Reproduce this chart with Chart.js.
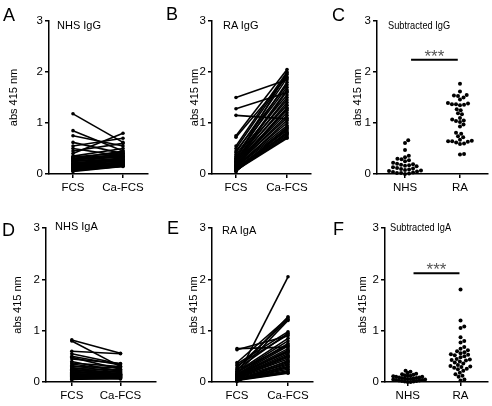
<!DOCTYPE html>
<html>
<head>
<meta charset="utf-8">
<script src="https://cdn.jsdelivr.net/npm/chart.js@4.4.1/dist/chart.umd.min.js"></script>
<style>
  body { margin: 0; background: #fff; width: 492px; height: 406px; position: relative; overflow: hidden;
         font-family: "Liberation Sans", Arial, sans-serif; color: #000; }
  canvas { position: absolute; }
  .letter { position: absolute; font-size: 18px; line-height: 1; }
  .title { position: absolute; font-size: 11px; line-height: 1; white-space: nowrap; transform-origin: left center; }
  .narrow { transform: scaleX(0.84); }
</style>
</head>
<body>
<canvas id="cA" width="160" height="200" style="left:0;top:0"></canvas>
<canvas id="cB" width="160" height="200" style="left:160px;top:0"></canvas>
<canvas id="cC" width="167" height="200" style="left:325px;top:0"></canvas>
<canvas id="cD" width="160" height="206" style="left:0;top:200px"></canvas>
<canvas id="cE" width="160" height="206" style="left:160px;top:200px"></canvas>
<canvas id="cF" width="167" height="206" style="left:325px;top:200px"></canvas>

<div class="letter" style="left:3px;top:6px">A</div>
<div class="letter" style="left:166px;top:5px">B</div>
<div class="letter" style="left:332px;top:6px">C</div>
<div class="letter" style="left:2px;top:221px">D</div>
<div class="letter" style="left:167px;top:219px">E</div>
<div class="letter" style="left:333px;top:220px">F</div>

<div class="title" style="left:57px;top:20px">NHS IgG</div>
<div class="title" style="left:223px;top:20px">RA IgG</div>
<div class="title narrow" style="left:388px;top:20px">Subtracted IgG</div>
<div class="title" style="left:55px;top:221px">NHS IgA</div>
<div class="title" style="left:222px;top:225px">RA IgA</div>
<div class="title narrow" style="left:390px;top:222px">Subtracted IgA</div>

<script>
const pairedLabels = ['FCS', 'Ca-FCS'];
const groupLabels = ['NHS', 'RA'];
const yTicks = [0, 1, 2, 3];
const yTitle = 'abs 415 nm';

// A: NHS IgG, paired FCS -> Ca-FCS
const fcsA = [1.18, 0.85, 0.75, 0.62, 0.55, 0.50, 0.45, 0.40, 0.35, 0.33, 0.31, 0.30, 0.28, 0.27, 0.25, 0.24, 0.22, 0.21, 0.20,
  0.19, 0.18, 0.17, 0.16, 0.15, 0.14, 0.13, 0.12, 0.11, 0.10, 0.09, 0.08, 0.07, 0.06, 0.05, 0.30, 0.26, 0.20, 0.12];
const caA = [0.62, 0.45, 0.55, 0.40, 0.70, 0.35, 0.60, 0.80, 0.50, 0.42, 0.38, 0.45, 0.33, 0.40, 0.30, 0.36, 0.28, 0.32, 0.25,
  0.30, 0.22, 0.27, 0.20, 0.24, 0.18, 0.22, 0.17, 0.20, 0.16, 0.19, 0.15, 0.18, 0.16, 0.15, 0.35, 0.28, 0.26, 0.22];

// B: RA IgG
const fcsB = [1.50, 1.28, 1.15, 0.75, 0.72, 0.55, 0.50, 0.45, 0.42, 0.38, 0.35, 0.32, 0.30, 0.28, 0.26, 0.25, 0.23, 0.22, 0.20,
  0.19, 0.18, 0.17, 0.16, 0.15, 0.14, 0.13, 0.12, 0.11, 0.10, 0.09, 0.08, 0.07, 0.06, 0.05, 0.05, 0.30, 0.24, 0.15];
const caB = [1.85, 1.60, 1.08, 2.05, 1.90, 2.00, 1.95, 1.75, 1.88, 1.70, 1.55, 1.80, 1.45, 1.65, 1.35, 1.50, 1.25, 1.40, 1.20,
  1.30, 1.10, 1.15, 1.00, 0.95, 0.90, 1.05, 0.85, 0.80, 0.78, 0.75, 0.72, 0.70, 0.82, 0.92, 0.88, 1.98, 1.62, 1.28];

// C: subtracted IgG
const nhsC = [0.66, 0.61, 0.47, 0.36, 0.33, 0.30, 0.29, 0.27, 0.25, 0.22, 0.20, 0.19, 0.18, 0.17, 0.16, 0.15, 0.13, 0.12,
  0.11, 0.10, 0.09, 0.08, 0.07, 0.06, 0.05, 0.04, 0.03, 0.02, 0.02, 0.01, 0.00];
const raC = [1.77, 1.62, 1.55, 1.54, 1.53, 1.50, 1.46, 1.39, 1.38, 1.37, 1.37, 1.36, 1.35, 1.27, 1.25, 1.19, 1.17, 1.10, 1.07,
  1.05, 1.04, 1.02, 0.97, 0.93, 0.81, 0.79, 0.74, 0.72, 0.67, 0.65, 0.64, 0.64, 0.63, 0.62, 0.60, 0.59, 0.39, 0.38];

// D: NHS IgA
const fcsD = [0.82, 0.80, 0.60, 0.55, 0.50, 0.48, 0.45, 0.40, 0.37, 0.35, 0.32, 0.30, 0.28, 0.26, 0.25, 0.23, 0.22, 0.20,
  0.19, 0.18, 0.17, 0.16, 0.15, 0.14, 0.13, 0.12, 0.11, 0.10, 0.09, 0.08, 0.07, 0.06, 0.05, 0.05];
const caD = [0.56, 0.30, 0.55, 0.35, 0.33, 0.25, 0.36, 0.20, 0.30, 0.22, 0.18, 0.28, 0.15, 0.24, 0.12, 0.20, 0.10, 0.17,
  0.14, 0.22, 0.09, 0.15, 0.13, 0.18, 0.08, 0.12, 0.10, 0.14, 0.07, 0.11, 0.09, 0.06, 0.08, 0.12];

// E: RA IgA
const fcsE = [0.65, 0.63, 0.38, 0.35, 0.10, 0.28, 0.25, 0.22, 0.20, 0.18, 0.16, 0.15, 0.14, 0.13, 0.12, 0.11, 0.10, 0.09,
  0.08, 0.07, 0.06, 0.05, 0.05, 0.04, 0.04, 0.03, 0.03, 0.02, 0.02, 0.01, 0.32, 0.20, 0.12, 0.08, 0.15, 0.10];
const caE = [0.68, 0.90, 1.25, 0.98, 2.05, 1.22, 0.95, 1.27, 0.85, 0.80, 1.20, 0.75, 0.70, 0.65, 0.60, 0.55, 0.50, 0.45,
  0.40, 0.35, 0.30, 0.25, 0.22, 0.20, 0.18, 0.17, 0.28, 0.33, 0.38, 0.42, 0.92, 0.72, 0.62, 0.48, 0.58, 0.52];

// F: subtracted IgA
const nhsF = [0.22, 0.20, 0.18, 0.16, 0.15, 0.14, 0.13, 0.12, 0.12, 0.11, 0.10, 0.10, 0.09, 0.09, 0.08, 0.08, 0.07, 0.07,
  0.06, 0.06, 0.05, 0.05, 0.04, 0.04, 0.03, 0.03, 0.02, 0.02, 0.01, 0.01, 0.00, 0.00];
const raF = [1.80, 1.20, 1.08, 1.05, 0.87, 0.80, 0.77, 0.68, 0.65, 0.62, 0.60, 0.58, 0.56, 0.54, 0.53, 0.52, 0.50, 0.48,
  0.45, 0.44, 0.43, 0.42, 0.40, 0.38, 0.36, 0.33, 0.31, 0.30, 0.29, 0.28, 0.26, 0.25, 0.22, 0.18, 0.15, 0.12, 0.10, 0.05, 0.03];

const sigText = '***';

Chart.defaults.font.family = '"Liberation Sans", Arial, sans-serif';
Chart.defaults.color = '#000';

// significance bar + stars above the two groups
const sigPlugin = {
  id: 'sig',
  afterDatasetsDraw(chart, args, opts) {
    if (!opts || opts.y == null) return;
    const { ctx, scales: { x, y } } = chart;
    const x0 = x.getPixelForValue(opts.x0);
    const x1 = x.getPixelForValue(opts.x1);
    const py = y.getPixelForValue(opts.y);
    ctx.save();
    ctx.strokeStyle = '#000';
    ctx.lineWidth = 2;
    ctx.beginPath();
    ctx.moveTo(x0, py);
    ctx.lineTo(x1, py);
    ctx.stroke();
    ctx.fillStyle = '#555';
    ctx.font = '17px "Liberation Sans", Arial, sans-serif';
    ctx.textAlign = 'center';
    ctx.textBaseline = 'alphabetic';
    ctx.fillText(opts.text, (x0 + x1) / 2, py + 2);
    ctx.restore();
  }
};

function scalesFor(box, labels) {
  return {
    x: {
      type: 'linear', min: box.xmin, max: box.xmax,
      afterBuildTicks: s => { s.ticks = labels.map((_, i) => ({ value: i })); },
      afterFit: s => { s.height = box.xh; },
      ticks: { callback: v => labels[v], font: { size: 11.5 }, padding: 3, maxRotation: 0, autoSkip: false },
      grid: { drawOnChartArea: false, drawTicks: true, tickLength: 4, color: '#000', lineWidth: 1.5 },
      border: { color: '#000', width: 1.5 }
    },
    y: {
      min: 0, max: 3,
      afterBuildTicks: s => { s.ticks = yTicks.map(v => ({ value: v })); },
      afterFit: s => { s.width = box.yw; },
      ticks: { font: { size: 11.5 }, padding: 2 },
      grid: { drawOnChartArea: false, drawTicks: true, tickLength: 4, color: '#000', lineWidth: 1.5 },
      border: { color: '#000', width: 1.5 },
      title: { display: true, text: yTitle, font: { size: 11 }, padding: { top: box.tpad, bottom: 0 } }
    }
  };
}

function baseOptions(box, labels, sig) {
  return {
    responsive: false,
    animation: false,
    layout: { padding: { top: box.top, right: box.right, left: 0, bottom: 0 } },
    scales: scalesFor(box, labels),
    plugins: { legend: { display: false }, tooltip: { enabled: false }, sig: sig || {} }
  };
}

function pairedSets(fcs, ca) {
  return fcs.map((v, i) => ({
    data: [{ x: 0, y: v }, { x: 1, y: ca[i] }],
    borderColor: '#000', backgroundColor: '#000', borderWidth: 1.6,
    pointRadius: 1.8, pointBorderWidth: 0, clip: false
  }));
}

// simple beeswarm: spread points sideways so dots do not overlap
function swarm(values, group, pxX, pxY, d) {
  const placed = [];
  return [...values].sort((a, b) => a - b).map(v => {
    const py = v * pxY;
    const near = placed.filter(p => Math.abs(p.y - py) < d);
    const cands = [0];
    near.forEach(p => {
      const dx = Math.sqrt(d * d - (p.y - py) ** 2);
      cands.push(p.x + dx, p.x - dx);
    });
    cands.sort((a, b) => Math.abs(a) - Math.abs(b));
    const x = cands.find(c => near.every(p => (p.x - c) ** 2 + (p.y - py) ** 2 >= d * d - 0.01));
    placed.push({ x, y: py });
    return { x: group + x / pxX, y: v };
  });
}

function dotSets(a, b, pxX, gaps) {
  return [a, b].map((vals, g) => ({
    data: swarm(vals, g, pxX, 51.3, gaps[g]),
    showLine: false, backgroundColor: '#000', borderColor: '#000',
    pointRadius: 2, pointBorderWidth: 0, clip: false
  }));
}

const boxes = {
  A: { top: 21, right: 12, yw: 49, xh: 26, xmin: -0.48, xmax: 1.50, tpad: 7 },
  B: { top: 21, right: 9, yw: 52, xh: 26, xmin: -0.47, xmax: 1.47, tpad: 28 },
  C: { top: 21, right: 4, yw: 52, xh: 26, xmin: -0.51, xmax: 1.51, tpad: 26 },
  D: { top: 28, right: 3, yw: 46, xh: 24, xmin: -0.53, xmax: 1.73, tpad: 11 },
  E: { top: 28, right: 7, yw: 52, xh: 24, xmin: -0.49, xmax: 1.49, tpad: 27 },
  F: { top: 28, right: 2, yw: 60, xh: 24, xmin: -0.43, xmax: 1.52, tpad: 31 }
};

new Chart(document.getElementById('cA'), { type: 'line', data: { datasets: pairedSets(fcsA, caA) }, options: baseOptions(boxes.A, pairedLabels) });
new Chart(document.getElementById('cB'), { type: 'line', data: { datasets: pairedSets(fcsB, caB) }, options: baseOptions(boxes.B, pairedLabels) });
new Chart(document.getElementById('cD'), { type: 'line', data: { datasets: pairedSets(fcsD, caD) }, options: baseOptions(boxes.D, pairedLabels) });
new Chart(document.getElementById('cE'), { type: 'line', data: { datasets: pairedSets(fcsE, caE) }, options: baseOptions(boxes.E, pairedLabels) });

new Chart(document.getElementById('cC'), {
  type: 'scatter', data: { datasets: dotSets(nhsC, raC, 55, [4.1, 4.1]) },
  options: baseOptions(boxes.C, groupLabels, { x0: 0.11, x1: 0.96, y: 2.24, text: sigText }),
  plugins: [sigPlugin]
});
new Chart(document.getElementById('cF'), {
  type: 'scatter', data: { datasets: dotSets(nhsF, raF, 54, [3.0, 4.1]) },
  options: baseOptions(boxes.F, groupLabels, { x0: 0.11, x1: 0.98, y: 2.12, text: sigText }),
  plugins: [sigPlugin]
});
</script>
</body>
</html>
